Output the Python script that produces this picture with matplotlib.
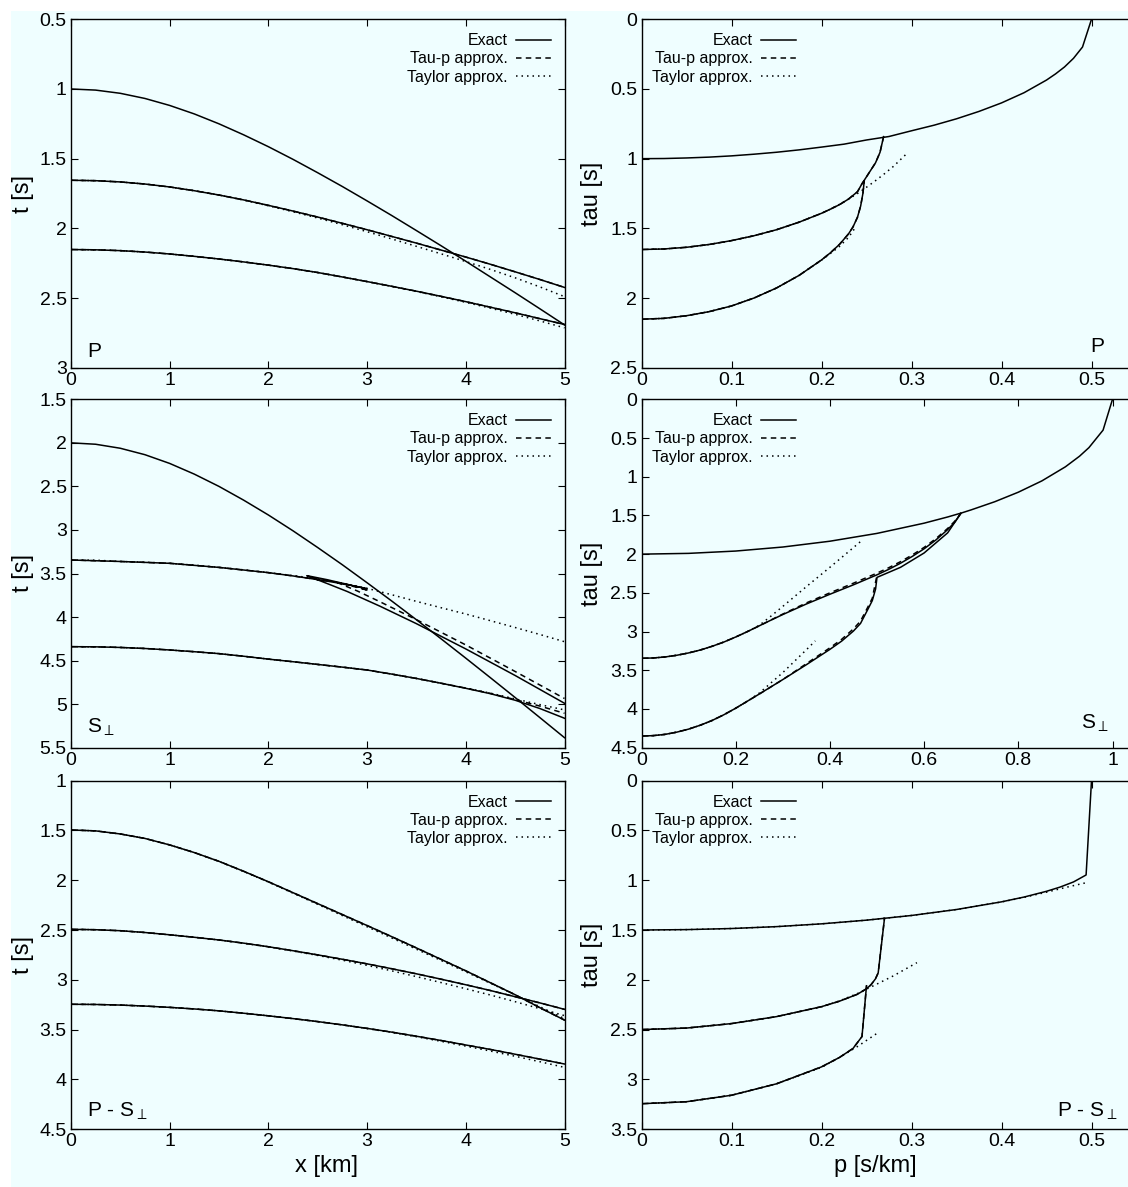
import matplotlib
matplotlib.use("Agg")
import matplotlib.pyplot as plt
from matplotlib.lines import Line2D
from matplotlib.patches import Rectangle
from matplotlib.ticker import FormatStrFormatter

# ---------------- P wave, t(x) ----------------
x_km = [0, 0.25, 0.5, 0.75, 1, 1.25, 1.5, 1.75, 2, 2.25, 2.5, 2.75, 3, 3.25, 3.5, 3.75, 4,
        4.25, 4.5, 4.75, 5]
p_tx_exact1 = [1.000, 1.008, 1.031, 1.068, 1.118, 1.179, 1.250, 1.329, 1.414, 1.505, 1.601,
               1.700, 1.803, 1.908, 2.016, 2.125, 2.236, 2.349, 2.462, 2.577, 2.693]
p_tx_exact2 = [1.655, 1.658, 1.667, 1.682, 1.703, 1.730, 1.761, 1.796, 1.835, 1.876, 1.919,
               1.964, 2.010, 2.058, 2.106, 2.156, 2.206, 2.258, 2.312, 2.367, 2.424]
p_tx_taylor2 = [1.655, 1.658, 1.667, 1.682, 1.703, 1.730, 1.761, 1.797, 1.838, 1.881, 1.926,
                1.974, 2.024, 2.076, 2.129, 2.183, 2.238, 2.295, 2.355, 2.420, 2.490]
p_tx_exact3 = [2.152, 2.154, 2.160, 2.170, 2.184, 2.201, 2.220, 2.241, 2.264, 2.289, 2.317,
               2.349, 2.382, 2.416, 2.451, 2.488, 2.526, 2.566, 2.606, 2.648, 2.690]
p_tx_taylor3 = [2.152, 2.154, 2.160, 2.170, 2.184, 2.201, 2.220, 2.241, 2.264, 2.289, 2.317,
                2.349, 2.382, 2.417, 2.453, 2.491, 2.531, 2.573, 2.617, 2.664, 2.714]

# ---------------- P wave, tau(p) ----------------
p_tp_p1 = [0, 0.025, 0.05, 0.075, 0.1, 0.125, 0.15, 0.175, 0.2, 0.225, 0.25, 0.275, 0.3,
           0.325, 0.35, 0.375, 0.4, 0.425, 0.45, 0.46, 0.47, 0.48, 0.49, 0.5]
p_tp_exact1 = [1.000, 0.999, 0.995, 0.989, 0.980, 0.968, 0.954, 0.937, 0.917, 0.896, 0.866,
               0.841, 0.800, 0.760, 0.714, 0.661, 0.600, 0.527, 0.436, 0.392, 0.342, 0.280,
               0.199, 0.0]
p_tp_p2 = [0, 0.025, 0.05, 0.075, 0.1, 0.125, 0.15, 0.175, 0.2, 0.21, 0.22, 0.23, 0.24,
           0.245, 0.25, 0.255, 0.26, 0.265, 0.269]
p_tp_exact2 = [1.652, 1.648, 1.636, 1.616, 1.588, 1.553, 1.510, 1.456, 1.392, 1.362, 1.330,
               1.290, 1.237, 1.180, 1.130, 1.080, 1.030, 0.955, 0.842]
p_tp_tay_p2 = [0, 0.025, 0.05, 0.075, 0.1, 0.125, 0.15, 0.175, 0.2, 0.21, 0.22, 0.23, 0.24,
               0.25, 0.26, 0.27, 0.28, 0.295]
p_tp_taylor2 = [1.652, 1.648, 1.636, 1.616, 1.588, 1.553, 1.510, 1.456, 1.393, 1.362, 1.328,
                1.290, 1.250, 1.205, 1.158, 1.108, 1.055, 0.962]
p_tp_p3 = [0, 0.025, 0.05, 0.075, 0.1, 0.125, 0.15, 0.175, 0.2, 0.21, 0.22, 0.23, 0.235,
           0.24, 0.2435, 0.246, 0.2475]
p_tp_exact3 = [2.152, 2.146, 2.127, 2.098, 2.057, 2.000, 1.928, 1.838, 1.727, 1.675, 1.615,
               1.540, 1.490, 1.420, 1.340, 1.250, 1.160]
p_tp_tay_p3 = [0, 0.025, 0.05, 0.075, 0.1, 0.125, 0.15, 0.175, 0.2, 0.21, 0.22, 0.23, 0.237]
p_tp_taylor3 = [2.152, 2.146, 2.127, 2.098, 2.057, 2.000, 1.928, 1.838, 1.728, 1.680, 1.630,
                1.565, 1.500]

# ---------------- S-perp wave, t(x) ----------------
s_tx_exact1 = [2.000, 2.016, 2.062, 2.136, 2.236, 2.359, 2.500, 2.658, 2.828, 3.010, 3.202,
               3.400, 3.606, 3.816, 4.031, 4.250, 4.472, 4.697, 4.924, 5.154, 5.385]
# reflector 2 has a triplication: forward, back, forward again
s_tx_x2a = [0, 0.5, 1, 1.5, 2, 2.25, 2.5, 2.75, 2.9, 3.0, 2.9, 2.75, 2.6, 2.45, 2.39,
            2.45, 2.6, 2.8, 3.13, 3.5, 4.0, 4.5, 5.0]
s_tx_exact2 = [3.345, 3.362, 3.383, 3.430, 3.490, 3.528, 3.570, 3.617, 3.650, 3.676, 3.651,
               3.612, 3.572, 3.538, 3.525, 3.551, 3.617, 3.707, 3.875, 4.076, 4.366, 4.671,
               4.990]
s_tx_x2b = [0, 0.5, 1, 1.5, 2, 2.25, 2.5, 2.75, 2.9, 3.02, 2.85, 2.7, 2.9, 3.13, 3.5, 4.0,
            4.5, 5.0]
s_tx_taup2 = [3.345, 3.362, 3.383, 3.430, 3.490, 3.528, 3.570, 3.612, 3.652, 3.697, 3.645,
              3.605, 3.700, 3.824, 4.030, 4.320, 4.625, 4.935]
s_tx_taylor2 = [3.345, 3.347, 3.362, 3.370, 3.383, 3.404, 3.430, 3.458, 3.490, 3.524, 3.560,
                3.612, 3.670, 3.744, 3.820, 3.893, 3.965, 4.042, 4.120, 4.200, 4.283]
s_tx_exact3 = [4.340, 4.342, 4.349, 4.361, 4.378, 4.398, 4.420, 4.450, 4.483, 4.513, 4.544,
               4.575, 4.608, 4.655, 4.705, 4.760, 4.818, 4.880, 4.955, 5.050, 5.162]
s_tx_taup3 = [4.340, 4.342, 4.349, 4.361, 4.378, 4.398, 4.420, 4.450, 4.483, 4.513, 4.544,
              4.575, 4.608, 4.655, 4.705, 4.760, 4.816, 4.877, 4.948, 5.022, 5.105]
s_tx_taylor3 = [4.340, 4.342, 4.349, 4.361, 4.378, 4.398, 4.420, 4.450, 4.483, 4.513, 4.544,
                4.575, 4.608, 4.655, 4.705, 4.760, 4.814, 4.874, 4.940, 5.005, 5.066]

# ---------------- S-perp wave, tau(p) ----------------
s_tp_p1 = [0, 0.1, 0.2, 0.3, 0.4, 0.5, 0.6, 0.65, 0.68, 0.7, 0.75, 0.8, 0.85, 0.9, 0.93,
           0.95, 0.98, 1.0]
s_tp_exact1 = [2.000, 1.990, 1.960, 1.908, 1.833, 1.732, 1.600, 1.520, 1.467, 1.428, 1.323,
               1.200, 1.054, 0.872, 0.735, 0.624, 0.398, 0.0]
s_tp_p2 = [0, 0.025, 0.05, 0.075, 0.1, 0.125, 0.15, 0.175, 0.2, 0.225, 0.25, 0.275, 0.3,
           0.35, 0.4, 0.45, 0.5, 0.525, 0.55, 0.575, 0.6, 0.625, 0.65, 0.665, 0.678]
s_tp_exact2 = [3.345, 3.341, 3.328, 3.306, 3.276, 3.238, 3.190, 3.135, 3.070, 3.000, 2.926,
               2.852, 2.780, 2.644, 2.518, 2.396, 2.267, 2.196, 2.117, 2.029, 1.931, 1.817,
               1.683, 1.588, 1.473]
s_tp_taup2 = [3.345, 3.341, 3.328, 3.306, 3.276, 3.238, 3.190, 3.135, 3.070, 3.000, 2.926,
              2.850, 2.774, 2.630, 2.500, 2.375, 2.245, 2.175, 2.097, 2.010, 1.913, 1.800,
              1.668, 1.575, 1.473]
s_tp_tay_p2 = [0, 0.025, 0.05, 0.075, 0.1, 0.125, 0.15, 0.175, 0.2, 0.225, 0.25, 0.275,
               0.3, 0.35, 0.4, 0.45, 0.469]
s_tp_taylor2 = [3.345, 3.341, 3.328, 3.306, 3.276, 3.238, 3.190, 3.135, 3.070, 3.000, 2.920,
                2.800, 2.675, 2.420, 2.170, 1.915, 1.817]
s_tp_p3 = [0, 0.025, 0.05, 0.075, 0.1, 0.125, 0.15, 0.175, 0.2, 0.25, 0.3, 0.35, 0.4,
           0.425, 0.45, 0.465, 0.48, 0.49, 0.497, 0.5, 0.55, 0.6, 0.65, 0.678]
s_tp_exact3 = [4.350, 4.344, 4.328, 4.299, 4.260, 4.209, 4.148, 4.074, 3.990, 3.807, 3.620,
               3.428, 3.230, 3.123, 2.993, 2.895, 2.720, 2.600, 2.450, 2.300, 2.170, 1.985,
               1.725, 1.473]
s_tp_taup_p3 = [0, 0.025, 0.05, 0.075, 0.1, 0.125, 0.15, 0.175, 0.2, 0.25, 0.3, 0.35, 0.4,
                0.425, 0.45, 0.465, 0.48, 0.49, 0.5]
s_tp_taup3 = [4.350, 4.344, 4.328, 4.299, 4.260, 4.209, 4.148, 4.074, 3.990, 3.807, 3.620,
              3.415, 3.210, 3.100, 2.965, 2.865, 2.690, 2.570, 2.270]
s_tp_tay_p3 = [0, 0.025, 0.05, 0.075, 0.1, 0.125, 0.15, 0.175, 0.2, 0.225, 0.25, 0.3,
               0.35, 0.369]
s_tp_taylor3 = [4.350, 4.344, 4.328, 4.299, 4.260, 4.209, 4.148, 4.074, 3.990, 3.900, 3.795,
                3.530, 3.235, 3.120]

# ---------------- converted P-S wave, t(x) ----------------
ps_tx_exact1 = [1.495, 1.504, 1.535, 1.580, 1.645, 1.722, 1.810, 1.910, 2.015, 2.125, 2.235,
                2.345, 2.455, 2.567, 2.680, 2.795, 2.910, 3.030, 3.150, 3.280, 3.405]
ps_tx_taylor1 = [1.495, 1.504, 1.535, 1.580, 1.645, 1.722, 1.811, 1.912, 2.018, 2.130, 2.242,
                 2.355, 2.467, 2.580, 2.693, 2.806, 2.920, 3.035, 3.152, 3.270, 3.390]
ps_tx_exact2 = [2.493, 2.497, 2.507, 2.525, 2.548, 2.573, 2.600, 2.632, 2.668, 2.708, 2.750,
                2.794, 2.840, 2.889, 2.940, 2.994, 3.050, 3.108, 3.170, 3.232, 3.297]
ps_tx_taylor2 = [2.493, 2.497, 2.507, 2.525, 2.548, 2.573, 2.600, 2.633, 2.670, 2.711, 2.755,
                 2.803, 2.855, 2.910, 2.968, 3.028, 3.090, 3.153, 3.220, 3.290, 3.360]
ps_tx_exact3 = [3.246, 3.248, 3.254, 3.264, 3.277, 3.293, 3.312, 3.336, 3.362, 3.390, 3.420,
                3.453, 3.488, 3.526, 3.567, 3.610, 3.655, 3.700, 3.748, 3.797, 3.846]
ps_tx_taylor3 = [3.246, 3.248, 3.254, 3.264, 3.277, 3.293, 3.312, 3.336, 3.362, 3.390, 3.420,
                 3.453, 3.490, 3.529, 3.572, 3.618, 3.666, 3.716, 3.768, 3.823, 3.880]

# ---------------- converted P-S wave, tau(p) ----------------
ps_tp_p1 = [0, 0.05, 0.1, 0.15, 0.2, 0.25, 0.3, 0.35, 0.4, 0.425, 0.45, 0.465, 0.48, 0.494, 0.5]
ps_tp_exact1 = [1.500, 1.496, 1.485, 1.466, 1.438, 1.401, 1.354, 1.294, 1.217, 1.169, 1.111,
                1.069, 1.017, 0.947, 0.0]
ps_tp_tay_p1 = [0, 0.05, 0.1, 0.15, 0.2, 0.25, 0.3, 0.35, 0.4, 0.425, 0.45, 0.47, 0.494]
ps_tp_taylor1 = [1.500, 1.496, 1.485, 1.466, 1.438, 1.401, 1.354, 1.294, 1.218, 1.172, 1.120,
                 1.075, 1.025]
ps_tp_p2 = [0, 0.05, 0.1, 0.15, 0.2, 0.22, 0.24, 0.25, 0.255, 0.26, 0.263, 0.27]
ps_tp_exact2 = [2.500, 2.485, 2.440, 2.370, 2.270, 2.215, 2.145, 2.090, 2.050, 1.990, 1.930,
                1.382]
ps_tp_tay_p2 = [0, 0.05, 0.1, 0.15, 0.2, 0.22, 0.24, 0.26, 0.28, 0.306]
ps_tp_taylor2 = [2.500, 2.485, 2.440, 2.370, 2.272, 2.212, 2.138, 2.050, 1.960, 1.828]
ps_tp_p3 = [0, 0.05, 0.1, 0.15, 0.2, 0.22, 0.235, 0.245, 0.25]
ps_tp_exact3 = [3.245, 3.225, 3.160, 3.045, 2.875, 2.780, 2.690, 2.570, 2.060]
ps_tp_tay_p3 = [0, 0.05, 0.1, 0.15, 0.2, 0.22, 0.24, 0.263]
ps_tp_taylor3 = [3.245, 3.225, 3.160, 3.045, 2.880, 2.780, 2.670, 2.530]

legend_labels = ["Exact", "Tau-p approx.", "Taylor approx."]
x_ticks = [0, 1, 2, 3, 4, 5]
p_ticks = [0, 0.1, 0.2, 0.3, 0.4, 0.5]
s_p_ticks = [0, 0.2, 0.4, 0.6, 0.8, 1.0]

# figure geometry (pixels of the reference)
W, H = 1128, 1187
BG = "#effeff"
DASH = (0, (3.6, 2.8))
DOT = (0, (1.0, 2.6))
LW = 1.1

plt.rcParams["font.family"] = ["Liberation Sans", "DejaVu Sans"]
plt.rcParams["mathtext.fontset"] = "custom"
plt.rcParams["mathtext.rm"] = "Liberation Sans"
plt.rcParams["mathtext.it"] = "Liberation Sans"

fig = plt.figure(figsize=(W / 100, H / 100), dpi=100, facecolor=BG)
# white margins of the scanned page
fig.patches.append(Rectangle((0, 1 - 11 / H), 1, 11 / H, transform=fig.transFigure,
                             facecolor="white", edgecolor="none", zorder=-1))
fig.patches.append(Rectangle((0, 0), 11 / W, 1, transform=fig.transFigure,
                             facecolor="white", edgecolor="none", zorder=-1))

ROW_TOPS = [19.3, 399.3, 780.7]
ROW_H = 348.4


def make_axes(col, row, width_px):
    left = 70.9 if col == 0 else 641.5
    top = ROW_TOPS[row]
    ax = fig.add_axes([left / W, 1 - (top + ROW_H) / H, width_px / W, ROW_H / H])
    ax.set_facecolor(BG)
    for s in ax.spines.values():
        s.set_linewidth(1.0)
    ax.tick_params(direction="in", length=5, width=0.8, top=True, right=True,
                   labelsize=14, pad=3)
    ax.xaxis.set_major_formatter(FormatStrFormatter("%g"))
    ax.yaxis.set_major_formatter(FormatStrFormatter("%g"))
    ax.left_px = left
    ax.width_px = width_px
    return ax


def draw(ax, xs, ys, style):
    ls = {"exact": "-", "taup": DASH, "taylor": DOT}[style]
    ax.plot(xs, ys, color="black", lw=LW, linestyle=ls)


def add_legend(ax, right_px):
    handles = [Line2D([], [], color="black", lw=LW, linestyle="-"),
               Line2D([], [], color="black", lw=LW, linestyle=DASH),
               Line2D([], [], color="black", lw=LW, linestyle=DOT)]
    bx = (right_px - ax.left_px) / ax.width_px
    by = 1 - 14 / ROW_H
    ax.legend(handles, legend_labels, loc="upper right", bbox_to_anchor=(bx, by),
              frameon=False, markerfirst=False, fontsize=11.5, handlelength=2.2,
              handletextpad=0.5, labelspacing=0.2, borderpad=0, borderaxespad=0)


def finish(ax, xlim, ylim, xticks, ylabel, legend_right, xlabel=None, xlabel_center=0.5):
    ax.set_xlim(*xlim)
    ax.set_ylim(*ylim)
    ax.set_xticks(xticks)
    ax.set_yticks([ylim[1] + 0.5 * i for i in range(int(round((ylim[0] - ylim[1]) / 0.5)) + 1)])
    add_legend(ax, legend_right)
    ylabel_right = 34 if ax.left_px < 100 else 603
    ax.set_ylabel(ylabel, fontsize=17)
    ax.yaxis.set_label_coords((ylabel_right - ax.left_px) / ax.width_px, 0.5)
    if xlabel:
        ax.set_xlabel(xlabel, fontsize=17)
        ax.xaxis.set_label_coords(xlabel_center, -26 / ROW_H)


def tag(ax, text, px_from_bottom, right_px=None):
    if right_px is None:
        ax.text(16 / ax.width_px, px_from_bottom / ROW_H, text, transform=ax.transAxes,
                fontsize=15, va="center")
    else:
        ax.text((right_px - ax.left_px) / ax.width_px, px_from_bottom / ROW_H, text,
                transform=ax.transAxes, fontsize=15, va="center", ha="right")


# ---- row 1 : P ----
ax = make_axes(0, 0, 493.6)
draw(ax, x_km, p_tx_exact1, "exact")
draw(ax, x_km, p_tx_exact2, "exact")
draw(ax, x_km, p_tx_exact3, "exact")
draw(ax, x_km, p_tx_exact2, "taup")
draw(ax, x_km, p_tx_exact3, "taup")
draw(ax, x_km, p_tx_taylor2, "taylor")
draw(ax, x_km, p_tx_taylor3, "taylor")
finish(ax, (0, 5), (3, 0.5), x_ticks, "t [s]", 551)
tag(ax, "P", 16)

ax = make_axes(1, 0, 540)
draw(ax, p_tp_p1, p_tp_exact1, "exact")
draw(ax, p_tp_p2, p_tp_exact2, "exact")
draw(ax, p_tp_p3, p_tp_exact3, "exact")
draw(ax, p_tp_p2, p_tp_exact2, "taup")
draw(ax, p_tp_p3, p_tp_exact3, "taup")
draw(ax, p_tp_tay_p2, p_tp_taylor2, "taylor")
draw(ax, p_tp_tay_p3, p_tp_taylor3, "taylor")
finish(ax, (0, 0.6), (2.5, 0), p_ticks, "tau [s]", 796)
tag(ax, "P", 21, 1104)

# ---- row 2 : S-perp ----
ax = make_axes(0, 1, 493.6)
draw(ax, x_km, s_tx_exact1, "exact")
draw(ax, s_tx_x2a, s_tx_exact2, "exact")
draw(ax, x_km, s_tx_exact3, "exact")
draw(ax, s_tx_x2b, s_tx_taup2, "taup")
draw(ax, x_km, s_tx_taup3, "taup")
draw(ax, x_km, s_tx_taylor2, "taylor")
draw(ax, x_km, s_tx_taylor3, "taylor")
finish(ax, (0, 5), (5.5, 1.5), x_ticks, "t [s]", 551)
tag(ax, r"S$_{\perp}$", 20)

ax = make_axes(1, 1, 565.2)
draw(ax, s_tp_p1, s_tp_exact1, "exact")
draw(ax, s_tp_p2, s_tp_exact2, "exact")
draw(ax, s_tp_p3, s_tp_exact3, "exact")
draw(ax, s_tp_p2, s_tp_taup2, "taup")
draw(ax, s_tp_taup_p3, s_tp_taup3, "taup")
draw(ax, s_tp_tay_p2, s_tp_taylor2, "taylor")
draw(ax, s_tp_tay_p3, s_tp_taylor3, "taylor")
finish(ax, (0, 1.2), (4.5, 0), s_p_ticks, "tau [s]", 796)
tag(ax, r"S$_{\perp}$", 24, 1109)

# ---- row 3 : P - S-perp ----
ax = make_axes(0, 2, 493.6)
draw(ax, x_km, ps_tx_exact1, "exact")
draw(ax, x_km, ps_tx_exact2, "exact")
draw(ax, x_km, ps_tx_exact3, "exact")
draw(ax, x_km, ps_tx_exact1, "taup")
draw(ax, x_km, ps_tx_exact2, "taup")
draw(ax, x_km, ps_tx_exact3, "taup")
draw(ax, x_km, ps_tx_taylor1, "taylor")
draw(ax, x_km, ps_tx_taylor2, "taylor")
draw(ax, x_km, ps_tx_taylor3, "taylor")
finish(ax, (0, 5), (4.5, 1), x_ticks, "t [s]", 551, "x [km]", 0.517)
tag(ax, r"P - S$_{\perp}$", 18)

ax = make_axes(1, 2, 540)
draw(ax, ps_tp_p1, ps_tp_exact1, "exact")
draw(ax, ps_tp_p2, ps_tp_exact2, "exact")
draw(ax, ps_tp_p3, ps_tp_exact3, "exact")
draw(ax, ps_tp_p2, ps_tp_exact2, "taup")
draw(ax, ps_tp_p3, ps_tp_exact3, "taup")
draw(ax, ps_tp_tay_p1, ps_tp_taylor1, "taylor")
draw(ax, ps_tp_tay_p2, ps_tp_taylor2, "taylor")
draw(ax, ps_tp_tay_p3, ps_tp_taylor3, "taylor")
finish(ax, (0, 0.6), (3.5, 0), p_ticks, "tau [s]", 796, "p [s/km]", (875 - 641.5) / 540)
tag(ax, r"P - S$_{\perp}$", 18, 1117)

fig.savefig("out.png", dpi=100, facecolor=BG)
